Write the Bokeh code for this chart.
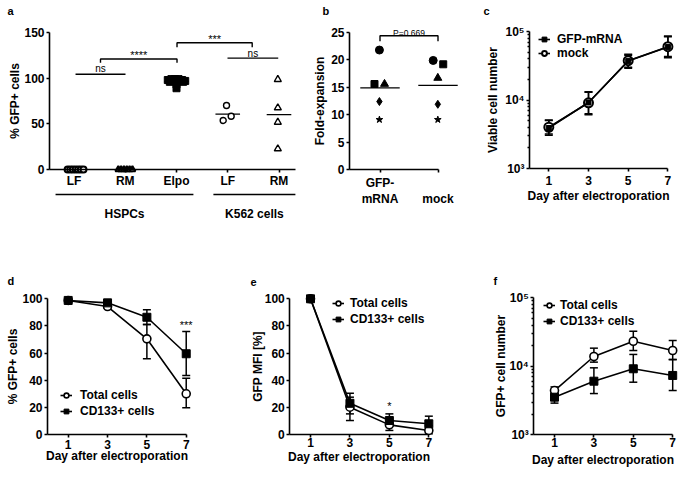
import numpy as np
from bokeh.plotting import figure
from bokeh.models import (Range1d, FixedTicker, Label, Whisker, TeeHead, ColumnDataSource,
                          Legend, LegendItem)
from bokeh.layouts import column, row
from bokeh.embed import file_html
from bokeh.resources import INLINE
from bokeh.core.properties import value

FONT = "Liberation Sans"

# ---------------- data ----------------
# panel a
a_tick_pos = [1, 2, 3, 4, 5]
a_tick_labels = ["LF", "RM", "Elpo", "LF", "RM"]
a_groups = ["HSPCs", "K562 cells"]
a_group_start = [0.64, 3.72]
a_group_end = [3.33, 5.32]
a_hspc_lf_x = [0.875, 0.927, 0.978, 1.03, 1.082, 1.133, 1.185]
a_hspc_lf_y = [0, 0, 0, 0, 0, 0, 0]
a_hspc_rm_x = [1.865, 1.92, 1.975, 2.03, 2.085, 2.14]
a_hspc_rm_y = [0, 0, 0, 0, 0, 0]
a_elpo_x = [2.83, 2.9, 2.97, 3.04, 3.11, 3.17, 2.87, 3.13, 3.0, 3.0, 3.0]
a_elpo_y = [98, 99, 99, 99, 98, 97, 96, 96, 97, 93, 89]
a_k562_lf_x = [3.976, 3.911, 4.067]
a_k562_lf_y = [70.1, 53.7, 58.4]
a_k562_rm_x = [4.977, 4.977, 4.977, 4.977]
a_k562_rm_y = [98.6, 67.6, 51.8, 22.7]
a_sig_x0 = [1.03, 1.517, 3.01, 3.995]
a_sig_x1 = [2.005, 3.01, 4.477, 4.985]
a_sig_y = [104.4, 121.0, 138.8, 122.0]
a_sig_drop = [0, 4.0, 4.8, 0]
a_sig_text = ["ns", "****", "***", "ns"]
a_sig_text_y = [111.0, 125.0, 142.8, 127.5]

# panel b
b_tick_pos = [1, 2]
b_tick_labels = ["GFP-\nmRNA", "\nmock"]
b_markers = ["circle", "square", "triangle", "diamond", "star"]
b_gfp_x = [0.99, 0.905, 1.078, 0.99, 0.99]
b_gfp_y = [21.8, 15.6, 15.6, 12.4, 9.1]
b_mock_x = [1.917, 2.09, 1.997, 1.997, 1.997]
b_mock_y = [19.9, 19.2, 16.7, 11.9, 9.1]
b_sig_x0 = [1]
b_sig_x1 = [2]
b_sig_y = [24.4]
b_sig_text = ["P=0.669"]

# panel c
days = [1, 3, 5, 7]
c_gfp = [3900, 9200, 37000, 59500]
c_gfp_lo = [3200, 6300, 30000, 43000]
c_gfp_hi = [5000, 13000, 45000, 84000]
c_mock = [4000, 9100, 37500, 60000]
c_mock_lo = [3050, 6100, 29000, 41500]
c_mock_hi = [5100, 13200, 46400, 85900]

# panel d
d_total = [98.8, 94.3, 70.5, 30.0]
d_total_lo = [98.0, 93.0, 55.8, 19.7]
d_total_hi = [99.5, 95.5, 81.0, 41.5]
d_cd133 = [98.8, 97.0, 86.4, 59.5]
d_cd133_lo = [98.0, 96.0, 81.0, 43.5]
d_cd133_hi = [99.5, 98.0, 91.9, 75.9]
d_sig_day = [7]
d_sig_y = [81.0]
d_sig_text = ["***"]

# panel e
e_total = [100, 20.1, 7.1, 3.0]
e_total_lo = [100, 10.3, 3.0, 0.5]
e_total_hi = [100, 27.5, 10.3, 6.6]
e_cd133 = [100, 23.0, 10.3, 7.9]
e_cd133_lo = [100, 15.2, 6.1, 1.7]
e_cd133_hi = [100, 30.4, 15.2, 13.5]
e_sig_day = [5]
e_sig_y = [21.3]
e_sig_text = ["*"]

# panel f
f_total = [4430, 13900, 23200, 17000]
f_total_lo = [4100, 11500, 17000, 12500]
f_total_hi = [5000, 18400, 32500, 23800]
f_cd133 = [3540, 6060, 9200, 7350]
f_cd133_lo = [2900, 4000, 5860, 4430]
f_cd133_hi = [4000, 9500, 14900, 12600]

log_ticks = [1e3, 1e4, 1e5]
log_minor = [m * 10 ** e for e in (3, 4) for m in range(2, 10)]
log_labels = {1000: "10³", 10000: "10⁴", 100000: "10⁵"}
day_label = "Day after electroporation"


# ---------------- helpers ----------------
def panel(box, xcal, ycal, ylog=False):
    """box = (left, top, width, height) of the panel on the page;
    xcal / ycal = (value, page pixel, pixels per unit) calibrations."""
    left, top, w, h = box
    xv, xp, xs = xcal
    yv, yp, ys = ycal
    x0 = xv + (left - xp) / xs
    x1 = xv + (left + w - xp) / xs
    y1 = yv + (yp - top) / ys
    y0 = yv - (top + h - yp) / ys
    if ylog:
        y0, y1 = 10 ** y0, 10 ** y1
    p = figure(width=w, height=h, min_border=0, min_border_left=0, min_border_right=0,
               min_border_top=0, min_border_bottom=0,
               x_range=Range1d(x0, x1), y_range=Range1d(y0, y1),
               y_axis_type="log" if ylog else "linear",
               output_backend="svg", toolbar_location=None, tools="")
    p.outline_line_color = None
    p.grid.visible = False
    p.background_fill_color = "white"
    p.border_fill_color = "white"
    for ax in list(p.xaxis) + list(p.yaxis):
        ax.axis_line_width = 1.6
        ax.axis_line_color = "black"
        ax.major_tick_line_width = 1.6
        ax.major_tick_line_color = "black"
        ax.major_tick_out = 3
        ax.major_tick_in = 0
        ax.minor_tick_line_color = None
        ax.major_label_text_font = FONT
        ax.major_label_text_font_style = "bold"
        ax.major_label_text_font_size = "12px"
        ax.major_label_text_color = "black"
        ax.major_label_standoff = 2
        ax.axis_label_text_font = FONT
        ax.axis_label_text_font_style = "bold"
        ax.axis_label_text_font_size = "12px"
        ax.axis_label_text_color = "black"
    return p


def set_axis(ax, ticks, bounds, at, labels=None, minor=None):
    ax.ticker = FixedTicker(ticks=ticks, minor_ticks=minor or [])
    ax.bounds = bounds
    ax.fixed_location = at
    if labels:
        ax.major_label_overrides = labels
    if minor:
        ax.minor_tick_line_color = "black"
        ax.minor_tick_line_width = 1.4
        ax.minor_tick_out = 2
        ax.minor_tick_in = 0


def letter(p, txt, x, y):
    p.add_layout(Label(x=x, y=y, x_units="screen", y_units="screen", text=txt,
                       text_font=FONT, text_font_style="bold", text_font_size="11px",
                       text_baseline="alphabetic", text_color="black"))


def errbars(p, x, lo, hi, size=8):
    src = ColumnDataSource(dict(base=x, lower=lo, upper=hi))
    p.add_layout(Whisker(source=src, base="base", lower="lower", upper="upper",
                         line_width=1.5, line_color="black",
                         upper_head=TeeHead(size=size, line_width=1.5, line_color="black"),
                         lower_head=TeeHead(size=size, line_width=1.5, line_color="black")))


def brackets(p, x0s, x1s, ys, drops):
    xs, yss = [], []
    for x0, x1, y, d in zip(x0s, x1s, ys, drops):
        if d:
            xs.append([x0, x0, x1, x1]); yss.append([y - d, y, y, y - d])
        else:
            xs.append([x0, x1]); yss.append([y, y])
    p.multi_line(xs, yss, line_color="black", line_width=1.4)


def sig_text(p, xs, ys, texts):
    for x, y, t in zip(xs, ys, texts):
        size = "11px" if t.startswith("*") else ("10px" if t == "ns" else "8.5px")
        p.text(x=[x], y=[y], text=[t], text_font=value(FONT), text_font_size=size,
               text_align="center", text_baseline="alphabetic", text_color="black")


def legend(p, items, loc, standoff, lh=14, spacing=2):
    leg = Legend(items=[LegendItem(label=l, renderers=r) for l, r in items],
                 location=loc, glyph_width=12, glyph_height=lh, label_height=lh,
                 spacing=spacing, padding=0, margin=0, label_standoff=standoff,
                 label_text_font=FONT, label_text_font_style="bold",
                 label_text_font_size="12px", label_text_color="black",
                 background_fill_alpha=0, border_line_color=None)
    p.add_layout(leg)


# ---------------- panel a ----------------
fa = panel((0, 0, 300, 245), (1, 73.5, 51.25), (0, 169, 0.913))
set_axis(fa.yaxis[0], [0, 50, 100, 150], (0, 150), 0.522)
set_axis(fa.xaxis[0], a_tick_pos, (0.522, 5.322), 0, dict(zip(a_tick_pos, a_tick_labels)))
fa.xaxis[0].major_label_standoff = 1
fa.yaxis[0].axis_label = "% GFP+ cells"
fa.yaxis[0].axis_label_standoff = -1

a_sets = [(a_hspc_lf_x, a_hspc_lf_y), (a_hspc_rm_x, a_hspc_rm_y), (a_elpo_x, a_elpo_y),
          (a_k562_lf_x, a_k562_lf_y), (a_k562_rm_x, a_k562_rm_y)]
a_means = [float(np.mean(y)) for _, y in a_sets]
fa.segment(x0=[c - 0.24 for c in a_tick_pos], y0=a_means,
           x1=[c + 0.24 for c in a_tick_pos], y1=a_means, line_color="black", line_width=1.2)
fa.scatter(a_hspc_lf_x, a_hspc_lf_y, marker="circle", size=6, fill_color="white",
           line_color="black", line_width=2)
fa.scatter(a_hspc_rm_x, a_hspc_rm_y, marker="triangle", size=6, fill_color="white",
           line_color="black", line_width=2)
fa.scatter(a_elpo_x, a_elpo_y, marker="square", size=7, fill_color="black", line_color="black")
fa.scatter(a_k562_lf_x, a_k562_lf_y, marker="circle", size=6, fill_color="white",
           line_color="black", line_width=1.4)
fa.scatter(a_k562_rm_x, a_k562_rm_y, marker="triangle", size=7, fill_color="white",
           line_color="black", line_width=1.4)
brackets(fa, a_sig_x0, a_sig_x1, a_sig_y, a_sig_drop)
sig_text(fa, [(x0 + x1) / 2 for x0, x1 in zip(a_sig_x0, a_sig_x1)], a_sig_text_y, a_sig_text)
# group lines / labels below the category axis (offsets in data units of the y scale)
fa.segment(x0=a_group_start, y0=[-27.4] * 2, x1=a_group_end, y1=[-27.4] * 2,
           line_color="black", line_width=1.5)
fa.text(x=[(s + e) / 2 for s, e in zip(a_group_start, a_group_end)], y=[-48.5] * 2,
        text=a_groups, text_font=value(FONT), text_font_style="bold", text_font_size="12px",
        text_align="center", text_baseline="alphabetic", text_color="black")
letter(fa, "a", 7, 234.5)

# ---------------- panel b ----------------
fb = panel((300, 0, 180, 245), (1, 379.5, 58), (0, 169, 5.48))
set_axis(fb.yaxis[0], [0, 5, 10, 15, 20, 25], (0, 25), 0.474)
set_axis(fb.xaxis[0], b_tick_pos, (0.474, 2.0), 0, dict(zip(b_tick_pos, b_tick_labels)))
fb.xaxis[0].major_label_standoff = 3
fb.yaxis[0].axis_label = "Fold-expansion"
fb.yaxis[0].axis_label_standoff = 1
b_sizes = [8, 7, 8, 8, 7]
for xs, ys, c in ((b_gfp_x, b_gfp_y, 1), (b_mock_x, b_mock_y, 2)):
    m = float(np.mean(ys))
    fb.segment(x0=[c - 0.34], y0=[m], x1=[c + 0.34], y1=[m], line_color="black", line_width=1.2)
    fb.scatter(x=xs, y=ys, marker=b_markers, size=b_sizes, fill_color="black", line_color="black")
brackets(fb, b_sig_x0, b_sig_x1, b_sig_y, [1.0])
sig_text(fb, [(a + b) / 2 for a, b in zip(b_sig_x0, b_sig_x1)], [25.0], b_sig_text)
letter(fb, "b", 22, 234.3)

# ---------------- panel c ----------------
fc = panel((480, 0, 205, 245), (1, 548.3, 19.85), (3, 168, 68.5), ylog=True)
set_axis(fc.yaxis[0], log_ticks, (1e3, 1e5), 0.028, log_labels, log_minor)
set_axis(fc.xaxis[0], days, (0.028, 7), 1e3)
fc.xaxis[0].major_label_standoff = 4
fc.yaxis[0].axis_label = "Viable cell number"
fc.yaxis[0].axis_label_standoff = 2
fc.xaxis[0].axis_label = day_label
fc.xaxis[0].axis_label_standoff = 1
errbars(fc, days, c_mock_lo, c_mock_hi)
errbars(fc, days, c_gfp_lo, c_gfp_hi)
cm_l = fc.line(days, c_mock, line_color="black", line_width=1.6)
cm_s = fc.scatter(days, c_mock, marker="circle", size=9, fill_color="white",
                  line_color="black", line_width=2)
cg_l = fc.line(days, c_gfp, line_color="black", line_width=1.6)
cg_s = fc.scatter(days, c_gfp, marker="square", size=5, fill_color="black", line_color="black")
legend(fc, [("GFP-mRNA", [cg_l, cg_s]), ("mock", [cm_l, cm_s])], (58, 185), 7, lh=12, spacing=0)
letter(fc, "c", 3, 235)

# ---------------- panel d ----------------
fd = panel((0, 245, 236, 234), (1, 67.7, 19.67), (0, 434, 1.357))
set_axis(fd.yaxis[0], [0, 20, 40, 60, 80, 100], (0, 100), -0.052)
set_axis(fd.xaxis[0], days, (-0.052, 7), 0)
fd.yaxis[0].axis_label = "% GFP+ cells"
fd.yaxis[0].axis_label_standoff = -1
fd.xaxis[0].axis_label = day_label
fd.xaxis[0].axis_label_standoff = -3
errbars(fd, days, d_total_lo, d_total_hi)
errbars(fd, days, d_cd133_lo, d_cd133_hi)
dt_l = fd.line(days, d_total, line_color="black", line_width=1.6)
dc_l = fd.line(days, d_cd133, line_color="black", line_width=1.6)
dt_s = fd.scatter(days, d_total, marker="circle", size=8, fill_color="white",
                  line_color="black", line_width=1.6)
dc_s = fd.scatter(days, d_cd133, marker="square", size=8, fill_color="black", line_color="black")
sig_text(fd, d_sig_day, d_sig_y, d_sig_text)
legend(fd, [("Total cells", [dt_l, dt_s]), ("CD133+ cells", [dc_l, dc_s])], (60, 61), 8)
letter(fd, "d", 7, 198.3)

# ---------------- panel e ----------------
fe = panel((236, 245, 226, 234), (1, 310, 19.72), (0, 434, 1.357))
set_axis(fe.yaxis[0], [0, 20, 40, 60, 80, 100], (0, 100), -0.05)
set_axis(fe.xaxis[0], days, (-0.05, 7), 0)
fe.xaxis[0].major_label_standoff = 0
fe.yaxis[0].axis_label = "GFP MFI [%]"
fe.yaxis[0].axis_label_standoff = -4
fe.xaxis[0].axis_label = day_label
fe.xaxis[0].axis_label_standoff = 0
errbars(fe, days, e_total_lo, e_total_hi)
errbars(fe, days, e_cd133_lo, e_cd133_hi)
et_l = fe.line(days, e_total, line_color="black", line_width=1.6)
ec_l = fe.line(days, e_cd133, line_color="black", line_width=1.6)
et_s = fe.scatter(days, e_total, marker="circle", size=8, fill_color="white",
                  line_color="black", line_width=1.6)
ec_s = fe.scatter(days, e_cd133, marker="square", size=8, fill_color="black", line_color="black")
sig_text(fe, e_sig_day, e_sig_y, e_sig_text)
legend(fe, [("Total cells", [et_l, et_s]), ("CD133+ cells", [ec_l, ec_s])], (96, 153), 6)
letter(fe, "e", 14, 198)

# ---------------- panel f ----------------
ff = panel((462, 245, 223, 234), (1, 554, 19.7), (3, 434.3, 68.5), ylog=True)
set_axis(ff.yaxis[0], log_ticks, (1e3, 1e5), -0.051, log_labels, log_minor)
set_axis(ff.xaxis[0], days, (-0.051, 7), 1e3)
ff.xaxis[0].major_label_standoff = 0
ff.yaxis[0].axis_label = "GFP+ cell number"
ff.yaxis[0].axis_label_standoff = -2
ff.xaxis[0].axis_label = day_label
ff.xaxis[0].axis_label_standoff = 3
errbars(ff, days, f_total_lo, f_total_hi)
errbars(ff, days, f_cd133_lo, f_cd133_hi)
ft_l = ff.line(days, f_total, line_color="black", line_width=1.6)
fc_l = ff.line(days, f_cd133, line_color="black", line_width=1.6)
ft_s = ff.scatter(days, f_total, marker="circle", size=8, fill_color="white",
                  line_color="black", line_width=1.6)
fc_s = ff.scatter(days, f_cd133, marker="square", size=8, fill_color="black", line_color="black")
legend(ff, [("Total cells", [ft_l, ft_s]), ("CD133+ cells", [fc_l, fc_s])], (81, 151), 5)
letter(ff, "f", 31, 199)

layout = column(row(fa, fb, fc), row(fd, fe, ff))
open("out.html", "w").write(file_html(layout, INLINE))
